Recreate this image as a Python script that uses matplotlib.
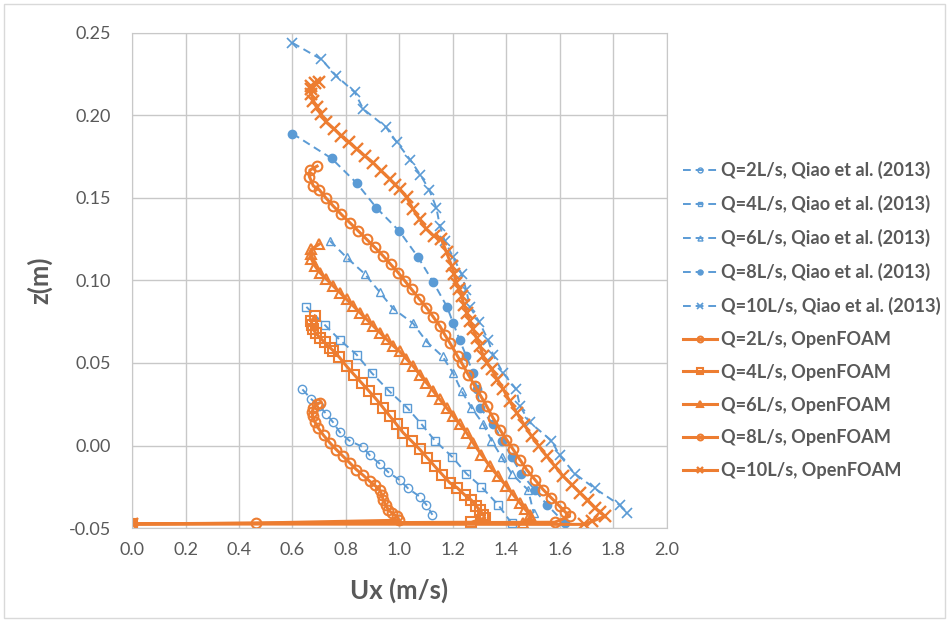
import matplotlib
matplotlib.use('Agg')
import matplotlib.pyplot as plt
from matplotlib.patches import Rectangle

plt.rcParams['font.family'] = ['Lato', 'DejaVu Sans']

blue = '#5B9BD5'
orange = '#ED7D31'
grey = '#595959'

# Qiao et al. (2013) measurements: (Ux, z)
qiao_q2_x = [0.637, 0.671, 0.700, 0.727, 0.752, 0.777, 0.812, 0.864, 0.889, 0.926, 0.957, 1.001, 1.032, 1.076, 1.101, 1.123]
qiao_q2_z = [0.034, 0.028, 0.024, 0.019, 0.014, 0.008, 0.003, -0.001, -0.006, -0.011, -0.016, -0.021, -0.026, -0.031, -0.036, -0.042]

qiao_q4_x = [0.652, 0.721, 0.777, 0.840, 0.896, 0.961, 1.028, 1.082, 1.132, 1.198, 1.250, 1.306, 1.369, 1.419]
qiao_q4_z = [0.084, 0.073, 0.064, 0.055, 0.044, 0.033, 0.023, 0.013, 0.003, -0.007, -0.017, -0.025, -0.036, -0.047]

qiao_q6_x = [0.740, 0.802, 0.870, 0.926, 0.976, 1.051, 1.101, 1.161, 1.200, 1.232, 1.269, 1.313, 1.344, 1.382, 1.419, 1.481, 1.502]
qiao_q6_z = [0.124, 0.114, 0.104, 0.093, 0.083, 0.074, 0.063, 0.054, 0.044, 0.033, 0.023, 0.013, 0.003, -0.007, -0.017, -0.027, -0.041]

qiao_q8_x = [0.600, 0.746, 0.840, 0.914, 0.999, 1.070, 1.126, 1.178, 1.201, 1.225, 1.250, 1.276, 1.290, 1.300, 1.350, 1.385, 1.419, 1.456, 1.506, 1.552, 1.618]
qiao_q8_z = [0.189, 0.174, 0.159, 0.144, 0.130, 0.114, 0.099, 0.084, 0.074, 0.064, 0.054, 0.044, 0.034, 0.023, 0.013, 0.003, -0.007, -0.017, -0.027, -0.036, -0.047]

qiao_q10_x = [0.600, 0.708, 0.764, 0.833, 0.864, 0.949, 0.989, 1.041, 1.078, 1.111, 1.138, 1.151, 1.169, 1.201, 1.232, 1.250, 1.263,
              1.298, 1.331, 1.350, 1.387, 1.437, 1.450, 1.487, 1.568, 1.599, 1.655, 1.730, 1.823, 1.849]
qiao_q10_z = [0.244, 0.234, 0.224, 0.214, 0.204, 0.193, 0.184, 0.173, 0.164, 0.155, 0.144, 0.133, 0.124, 0.114, 0.104, 0.094, 0.084,
              0.075, 0.064, 0.055, 0.044, 0.034, 0.024, 0.014, 0.003, -0.006, -0.017, -0.026, -0.036, -0.041]

# OpenFOAM profiles: (Ux, z), starting at the wall
of_q2_x = [0.0, 0.462, 0.999, 0.989, 0.972, 0.958, 0.948, 0.939, 0.934, 0.926, 0.908, 0.889, 0.864, 0.839, 0.814, 0.789, 0.764,
           0.740, 0.716, 0.696, 0.684, 0.675, 0.674, 0.678, 0.690, 0.703]
of_q2_z = [-0.0475, -0.047, -0.0453, -0.0429, -0.041, -0.0388, -0.036, -0.0328, -0.030, -0.0267, -0.0242, -0.0217, -0.018, -0.0146,
           -0.0105, -0.0065, -0.0025, 0.0016, 0.0062, 0.0107, 0.0142, 0.0178, 0.0205, 0.0229, 0.0250, 0.0259]

of_q4_x = [0.0, 1.269, 1.319, 1.313, 1.300, 1.287, 1.268, 1.244, 1.215, 1.188, 1.160, 1.132, 1.104, 1.076, 1.045, 1.014, 0.989,
           0.964, 0.939, 0.914, 0.886, 0.858, 0.830, 0.802, 0.775, 0.752, 0.740, 0.720, 0.702, 0.688, 0.677, 0.672, 0.671, 0.684]
of_q4_z = [-0.0475, -0.0465, -0.0439, -0.0419, -0.039, -0.0368, -0.033, -0.030, -0.0255, -0.0226, -0.0176, -0.0126, -0.0075, -0.0024,
           0.0027, 0.0077, 0.0128, 0.0178, 0.0229, 0.0279, 0.033, 0.038, 0.043, 0.0481, 0.0535, 0.0575, 0.0593, 0.0625, 0.0654,
           0.068, 0.0704, 0.073, 0.0754, 0.0785]

of_q6_x = [0.0, 1.460, 1.493, 1.487, 1.468, 1.450, 1.425, 1.400, 1.369, 1.338, 1.306, 1.275, 1.251, 1.226, 1.201, 1.176, 1.151,
           1.126, 1.101, 1.076, 1.051, 1.026, 1.001, 0.976, 0.952, 0.927, 0.902, 0.877, 0.852, 0.827, 0.802, 0.777, 0.752,
           0.727, 0.702, 0.683, 0.671, 0.671, 0.671, 0.700]
of_q6_z = [-0.0475, -0.0468, -0.0439, -0.0419, -0.0383, -0.0348, -0.0298, -0.0247, -0.0187, -0.0126, -0.0055, 0.0016, 0.0077, 0.0128,
           0.0178, 0.0228, 0.0279, 0.033, 0.038, 0.043, 0.0481, 0.0525, 0.057, 0.0605, 0.0643, 0.0684, 0.0724, 0.0765, 0.0805,
           0.0846, 0.0886, 0.0927, 0.0967, 0.1008, 0.1048, 0.109, 0.1129, 0.116, 0.119, 0.122]

of_q8_x = [0.0, 1.580, 1.636, 1.618, 1.599, 1.568, 1.537, 1.506, 1.475, 1.450, 1.425, 1.400, 1.375, 1.350, 1.326, 1.304, 1.282,
           1.257, 1.232, 1.217, 1.188, 1.170, 1.151, 1.126, 1.101, 1.073, 1.045, 1.020, 0.995, 0.967, 0.939, 0.908, 0.877,
           0.846, 0.814, 0.783, 0.752, 0.725, 0.700, 0.678, 0.663, 0.665, 0.692]
of_q8_z = [-0.0475, -0.0465, -0.0429, -0.040, -0.0368, -0.0318, -0.0267, -0.0206, -0.0146, -0.0085, -0.0024, 0.0036, 0.0097, 0.0167,
           0.0238, 0.030, 0.036, 0.043, 0.0502, 0.0542, 0.0623, 0.067, 0.0724, 0.078, 0.0836, 0.089, 0.0947, 0.0998, 0.1048,
           0.1098, 0.1149, 0.12, 0.125, 0.13, 0.1351, 0.14, 0.1452, 0.150, 0.155, 0.1573, 0.163, 0.1669, 0.1693]

of_q10_x = [0.0, 1.690, 1.720, 1.768, 1.750, 1.731, 1.703, 1.675, 1.644, 1.612, 1.581, 1.550, 1.522, 1.494, 1.466, 1.438, 1.412,
            1.388, 1.366, 1.345, 1.328, 1.313, 1.301, 1.288, 1.276, 1.263, 1.251, 1.241, 1.232, 1.222, 1.213, 1.205, 1.195,
            1.176, 1.157, 1.128, 1.101, 1.075, 1.051, 1.027, 1.001, 0.985, 0.964, 0.932, 0.901, 0.870, 0.840, 0.812, 0.783,
            0.755, 0.727, 0.705, 0.690, 0.678, 0.671, 0.669, 0.671, 0.683, 0.700]
of_q10_z = [-0.0475, -0.0478, -0.046, -0.0429, -0.0405, -0.0378, -0.0333, -0.0287, -0.0237, -0.0186, -0.0125, -0.0065, -0.0005,
            0.0056, 0.0127, 0.0198, 0.027, 0.034, 0.040, 0.0461, 0.050, 0.0542, 0.0603, 0.065, 0.0704, 0.0755, 0.0805, 0.085,
            0.0906, 0.095, 0.0987, 0.104, 0.1088, 0.117, 0.125, 0.127, 0.1311, 0.137, 0.1432, 0.1503, 0.1553, 0.158, 0.1614,
            0.1665, 0.1715, 0.1755, 0.1796, 0.1837, 0.1877, 0.192, 0.1958, 0.201, 0.205, 0.209, 0.213, 0.216, 0.2181, 0.2195,
            0.2205]

fig = plt.figure(figsize=(9.49, 6.22), dpi=100)
ax = fig.add_axes([0.1391, 0.1511, 0.5637, 0.7959])

dash = (0, (4, 2.5))
ax.plot(qiao_q2_x, qiao_q2_z, color=blue, ls=dash, lw=1.4, marker='o', ms=6, mfc='none', mew=1, label='Q=2L/s, Qiao et al. (2013)')
ax.plot(qiao_q4_x, qiao_q4_z, color=blue, ls=dash, lw=1.4, marker='s', ms=6, mfc='none', mew=1, label='Q=4L/s, Qiao et al. (2013)')
ax.plot(qiao_q6_x, qiao_q6_z, color=blue, ls=dash, lw=1.4, marker='^', ms=6, mfc='none', mew=1, label='Q=6L/s, Qiao et al. (2013)')
ax.plot(qiao_q8_x, qiao_q8_z, color=blue, ls=dash, lw=1.4, marker='o', ms=6, mew=1, label='Q=8L/s, Qiao et al. (2013)')
ax.plot(qiao_q10_x, qiao_q10_z, color=blue, ls=dash, lw=1.4, marker='x', ms=7, mew=1.2, label='Q=10L/s, Qiao et al. (2013)')

ax.plot(of_q2_x, of_q2_z, color=orange, lw=2.2, marker='o', ms=7, mfc='none', mew=1.5, label='Q=2L/s, OpenFOAM')
ax.plot(of_q4_x, of_q4_z, color=orange, lw=2.2, marker='s', ms=7, mfc='none', mew=1.5, label='Q=4L/s, OpenFOAM')
ax.plot(of_q6_x, of_q6_z, color=orange, lw=2.2, marker='^', ms=7, mfc='none', mew=1.5, label='Q=6L/s, OpenFOAM')
ax.plot(of_q8_x, of_q8_z, color=orange, lw=2.2, marker='o', ms=7, mfc='none', mew=1.5, label='Q=8L/s, OpenFOAM')
ax.plot(of_q10_x, of_q10_z, color=orange, lw=2.2, marker='x', ms=8, mew=1.7, label='Q=10L/s, OpenFOAM')

ax.set_xlim(0, 2.0)
ax.set_ylim(-0.05, 0.25)
ax.set_xticks([i * 0.2 for i in range(11)])
ax.set_yticks([-0.05, 0.0, 0.05, 0.10, 0.15, 0.20, 0.25])
ax.xaxis.set_major_formatter(plt.FormatStrFormatter('%.1f'))
ax.yaxis.set_major_formatter(plt.FormatStrFormatter('%.2f'))
ax.grid(True, color='#c8c8c8', lw=1)
ax.set_axisbelow(True)
for s in ax.spines.values():
    s.set_color('#c8c8c8')
ax.tick_params(length=0, labelsize=13, labelcolor=grey)
ax.tick_params(axis='x', pad=10)
ax.tick_params(axis='y', pad=15)

ax.set_xlabel('Ux (m/s)', fontsize=18.5, fontweight='bold', color=grey, labelpad=14)
ax.set_ylabel('z(m)', fontsize=18.5, fontweight='bold', color=grey, labelpad=12)

ax.legend(loc='upper left', bbox_to_anchor=(0.702, 0.767), bbox_transform=fig.transFigure,
          frameon=False, prop={'weight': 'bold', 'size': 13.1},
          labelcolor=grey, handlelength=1.9, handletextpad=0.2, labelspacing=0.87, markerscale=0.6)

fig.patches.append(Rectangle((0.004, 0.006), 0.992, 0.988, transform=fig.transFigure,
                             fill=False, edgecolor='#d9d9d9', lw=1))

fig.savefig('out.png', dpi=100)
